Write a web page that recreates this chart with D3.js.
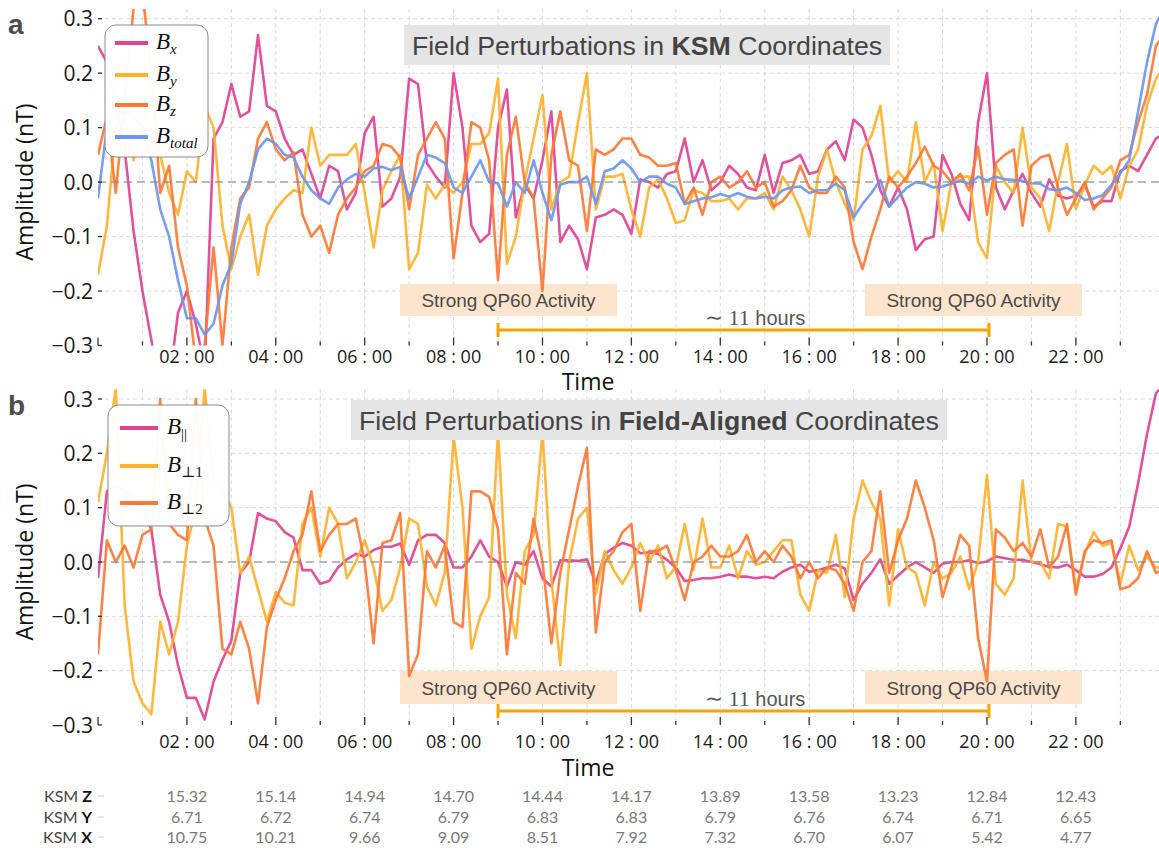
<!DOCTYPE html>
<html>
<head>
<meta charset="utf-8">
<script src="https://cdn.jsdelivr.net/npm/d3@7"></script>
<style>
  body { margin: 0; background: #fff; }
  svg { display: block; }
</style>
</head>
<body>
<svg id="chart" width="1159" height="848"></svg>
<script>
// Sampling interval of the perturbation series, in hours (starts at 00:00)
const hourStep = 0.2;

// ---- Panel a: perturbations in KSM coordinates (nT) ----
const bxKSM = [
  0.25, 0.22, 0.14, 0.06, -0.09, -0.20, -0.29, -0.38, -0.37, -0.24,
  -0.20, -0.26, -0.34, 0.08, 0.11, 0.18, 0.12, 0.13, 0.27, 0.14,
  0.13, 0.08, 0.05, 0.06, 0.015, -0.03, 0.03, 0.02, -0.05, -0.02,
  0.09, 0.12, -0.045, -0.03, 0.01, 0.19, 0.18, 0.035, 0.01, -0.01,
  0.20, 0.10, -0.08, -0.11, -0.095, 0.10, 0.17, -0.065, -0.005, -0.03,
  0.04, 0.13, -0.11, -0.08, -0.105, -0.16, -0.065, -0.06, -0.05, -0.06,
  -0.095, 0.005, 0.0, -0.01, 0.015, 0.02, 0.08, 0.0, 0.04, -0.015,
  0.0, 0.03, 0.015, -0.01, -0.015, 0.05, -0.02, 0.035, 0.04, 0.05,
  0.015, 0.02, 0.06, 0.075, 0.04, 0.115, 0.10, 0.05, -0.015, -0.045,
  -0.01, -0.05, -0.125, -0.105, -0.10, 0.05, 0.015, -0.04, -0.07, 0.11,
  0.20, -0.01, -0.05, -0.015, 0.015, -0.02, -0.045, 0.005, -0.025, -0.03,
  -0.025, -0.005, -0.045, -0.035, -0.035, 0.02, 0.03, 0.02, 0.05, 0.08,
  0.09
];
const byKSM = [
  -0.17, -0.08, 0.10, 0.12, 0.04, 0.10, 0.20, 0.05, -0.02, -0.06,
  0.02, 0.0, 0.14, 0.10, -0.08, -0.16, -0.10, -0.06, -0.17, -0.08,
  -0.05, -0.03, -0.015, -0.02, 0.10, 0.03, 0.05, 0.05, 0.05, 0.07,
  -0.02, -0.12, -0.015, 0.02, 0.05, -0.16, -0.13, -0.005, -0.03, -0.005,
  -0.02, 0.0, 0.07, 0.07, 0.09, 0.19, -0.15, -0.10, 0.0, 0.08,
  0.16, -0.05, 0.0, 0.01, 0.11, 0.20, -0.05, 0.01, 0.01, 0.015,
  -0.05, -0.10, -0.01, 0.005, -0.03, -0.075, -0.07, -0.015, -0.02, -0.035,
  -0.035, -0.03, -0.05, -0.03, -0.03, -0.02, -0.05, 0.01, -0.015, -0.05,
  -0.10, 0.01, 0.06, 0.0, -0.04, -0.07, 0.06, 0.085, 0.14, 0.0,
  0.02, 0.0, 0.11, 0.0, 0.035, -0.09, 0.0, 0.01, 0.01, -0.11,
  -0.14, 0.03, 0.0, -0.02, 0.10, -0.01, -0.03, -0.09, 0.0, 0.07,
  -0.05, -0.005, 0.03, 0.015, 0.03, -0.03, 0.03, 0.06, 0.14, 0.19,
  0.21
];
const bzKSM = [
  0.05, 0.12, -0.02, 0.15, 0.32, 0.35, 0.20, -0.02, 0.03, -0.12,
  -0.19, -0.33, -0.30, -0.12, -0.30, -0.12, -0.03, -0.01, 0.08, 0.11,
  0.06, 0.04, 0.055, -0.06, -0.10, -0.08, -0.13, -0.06, -0.03, -0.01,
  0.02, 0.03, 0.07, 0.065, 0.045, -0.05, 0.05, 0.08, 0.11, 0.08,
  -0.14, -0.02, 0.11, 0.10, 0.04, -0.18, 0.05, 0.12, 0.0, -0.03,
  -0.20, 0.05, 0.13, 0.04, 0.03, -0.09, 0.06, 0.05, 0.06, 0.08,
  0.08, 0.05, 0.045, 0.03, 0.03, 0.035, -0.04, -0.01, -0.06, 0.0,
  0.01, -0.01, 0.0, 0.02, -0.01, 0.0, -0.045, -0.035, -0.015, 0.03,
  -0.01, -0.02, -0.02, 0.01, -0.01, -0.11, -0.16, -0.10, -0.05, 0.01,
  -0.01, 0.01, 0.035, 0.065, 0.03, 0.02, 0.0, 0.015, -0.015, 0.065,
  -0.06, 0.035, 0.05, 0.06, -0.08, 0.03, 0.045, 0.05, -0.01, -0.06,
  -0.03, 0.0, -0.05, -0.03, -0.01, 0.04, 0.05, 0.11, 0.16, 0.25,
  0.27
];
const btotalKSM = [
  -0.03, 0.10, 0.12, 0.13, 0.12, 0.10, 0.04, -0.05, -0.10, -0.18,
  -0.25, -0.25, -0.28, -0.26, -0.19, -0.15, -0.04, 0.0, 0.06, 0.08,
  0.07, 0.05, 0.045, 0.01, -0.015, -0.03, -0.04, -0.01, 0.005, 0.015,
  0.01, 0.025, 0.028, 0.022, 0.028, -0.03, 0.01, 0.05, 0.045, 0.035,
  -0.01, -0.02, 0.01, 0.04, 0.0, -0.002, -0.045, 0.0, -0.02, 0.04,
  -0.02, -0.07, -0.005, 0.0, 0.0, 0.01, -0.04, 0.02, 0.025, 0.04,
  0.025, 0.0, 0.01, 0.01, -0.003, -0.01, -0.04, -0.035, -0.03, -0.028,
  -0.022, -0.027, -0.02, -0.027, -0.03, -0.027, -0.03, -0.015, -0.01, -0.008,
  -0.02, -0.015, -0.015, -0.003, -0.015, -0.065, -0.04, -0.02, 0.004, -0.045,
  -0.027, -0.01, 0.0, -0.003, -0.01, -0.008, -0.003, 0.003, -0.003, 0.01,
  0.003, 0.01, 0.005, 0.004, 0.002, -0.002, -0.003, -0.013, -0.015, -0.01,
  -0.02, -0.033, -0.03, -0.024, -0.005, 0.016, 0.04, 0.13, 0.22, 0.29,
  0.32
];

// ---- Panel b: perturbations in field-aligned coordinates (nT) ----
const bParallel = [
  -0.03, 0.13, 0.14, 0.13, 0.12, 0.10, 0.06, -0.06, -0.11, -0.19,
  -0.25, -0.25, -0.29, -0.22, -0.18, -0.145, -0.02, 0.0, 0.09, 0.08,
  0.075, 0.055, 0.045, -0.015, -0.015, -0.04, -0.035, -0.01, 0.005, 0.015,
  0.01, 0.022, 0.028, 0.028, 0.034, -0.005, 0.04, 0.05, 0.05, 0.035,
  -0.01, -0.01, 0.01, 0.04, 0.01, 0.0, -0.045, 0.0, -0.005, 0.02,
  -0.03, -0.045, 0.003, 0.003, 0.002, 0.005, -0.04, 0.015, 0.026, 0.035,
  0.03, 0.016, 0.018, 0.015, 0.004, -0.01, -0.035, -0.033, -0.03, -0.03,
  -0.027, -0.023, -0.027, -0.027, -0.03, -0.027, -0.03, -0.018, -0.01, -0.005,
  -0.018, -0.015, -0.01, -0.005, -0.012, -0.07, -0.04, -0.02, 0.005, -0.04,
  -0.025, -0.01, 0.0, -0.01, -0.02, -0.003, 0.0, 0.0, 0.003, -0.002,
  0.001, 0.01, 0.007, 0.004, 0.004, 0.0, -0.004, -0.009, -0.01, -0.005,
  -0.015, -0.027, -0.027, -0.022, -0.01, 0.025, 0.065, 0.145, 0.235, 0.31,
  0.33
];
const bPerp1 = [
  0.11, 0.20, 0.32, -0.08, -0.22, -0.26, -0.28, -0.11, -0.17, -0.11,
  0.03, 0.10, 0.32, 0.15, 0.13, 0.10, -0.02, 0.01, -0.05, -0.11,
  -0.055, -0.075, -0.08, 0.07, 0.10, 0.01, 0.10, 0.07, -0.03, 0.0,
  0.04, -0.01, -0.09, -0.07, -0.01, 0.08, 0.07, -0.045, -0.08, -0.02,
  0.23, 0.10, -0.16, -0.10, -0.065, 0.24, -0.06, -0.14, 0.02, 0.05,
  0.24, -0.03, -0.19, 0.0, 0.08, 0.10, -0.06, 0.02, -0.015, -0.04,
  -0.01, 0.035, 0.0, 0.03, -0.03, -0.01, 0.07, -0.015, 0.08, -0.01,
  -0.01, 0.03, -0.03, 0.02, -0.005, 0.0, 0.02, 0.04, 0.04, -0.06,
  -0.09, -0.015, -0.02, 0.05, -0.065, 0.08, 0.15, 0.11, 0.08, -0.08,
  0.06, -0.01, -0.02, -0.08, 0.0, -0.03, -0.02, 0.01, -0.05, 0.0,
  0.16, -0.04, -0.06, -0.03, 0.15, 0.0, 0.0, -0.03, 0.07, 0.065,
  -0.05, 0.015, 0.055, 0.03, 0.035, -0.04, 0.03, -0.015, 0.01, -0.01,
  -0.01
];
const bPerp2 = [
  -0.17, 0.04, 0.0, 0.03, -0.01, 0.05, 0.06, 0.30, 0.07, 0.05,
  0.04, 0.30, 0.08, 0.03, -0.16, -0.17, -0.11, -0.16, -0.26, -0.12,
  -0.07, -0.03, 0.02, 0.05, 0.13, 0.02, 0.05, 0.07, 0.07, 0.08,
  0.0, -0.15, 0.035, 0.04, 0.09, -0.21, -0.17, 0.02, -0.01, 0.03,
  -0.11, -0.12, 0.13, 0.13, 0.12, 0.06, -0.17, -0.02, -0.04, 0.08,
  0.0, -0.15, -0.02, 0.06, 0.14, 0.21, -0.13, 0.0, 0.02, 0.055,
  0.07, -0.09, 0.02, 0.02, 0.03, -0.015, -0.07, 0.0, 0.01, 0.03,
  0.01, 0.01, 0.02, 0.05, 0.0, 0.02, 0.0, 0.03, 0.01, -0.03,
  0.0, -0.03, -0.01, -0.015, -0.04, -0.09, 0.0, 0.02, 0.13, -0.02,
  0.04, 0.08, 0.15, 0.10, 0.04, -0.065, -0.01, 0.05, 0.03, -0.14,
  -0.22, 0.06, 0.045, 0.02, 0.035, 0.01, 0.06, -0.01, 0.01, 0.07,
  -0.06, 0.02, 0.04, 0.035, 0.04, -0.05, -0.045, -0.03, 0.02, -0.02,
  -0.015
];

// Labelled time ticks (hours) and spacecraft position table
const labelHours = [2, 4, 6, 8, 10, 12, 14, 16, 18, 20, 22];
const timeLabels = ["02 : 00", "04 : 00", "06 : 00", "08 : 00", "10 : 00", "12 : 00",
                    "14 : 00", "16 : 00", "18 : 00", "20 : 00", "22 : 00"];
const ksmZ = [15.32, 15.14, 14.94, 14.70, 14.44, 14.17, 13.89, 13.58, 13.23, 12.84, 12.43];
const ksmY = [6.71, 6.72, 6.74, 6.79, 6.83, 6.83, 6.79, 6.76, 6.74, 6.71, 6.65];
const ksmX = [10.75, 10.21, 9.66, 9.09, 8.51, 7.92, 7.32, 6.70, 6.07, 5.42, 4.77];

// Window of strong QP60 activity (hours) and its annotation
const activityStart = 9;
const activityEnd = 20;
const activityLabel = "Strong QP60 Activity";

const legendSubsA = ["x", "y", "z", "total"];
const legendSubsB = ["||", "⊥1", "⊥2"];

// ---------------------------------------------------------------
const PINK = "#df4394", AMBER = "#ffb22c", ORANGE = "#ff7834", BLUE = "#6e96ef";
const SANS = "'Open Sans', 'Noto Sans', sans-serif";
const HELV = "'Liberation Sans', Arial, sans-serif";
const SERIF = "'Liberation Serif', 'DejaVu Serif', serif";

const svg = d3.select("#chart");
const times = bxKSM.map((_, i) => i * hourStep);
const x = d3.scaleLinear().domain([0, 23.87]).range([98, 1159]);

const panels = [
  {
    id: "a",
    y: d3.scaleLinear().domain([-0.3, 0.3]).range([345.5, 18.7]),
    series: [
      { values: bxKSM, color: PINK },
      { values: byKSM, color: AMBER },
      { values: bzKSM, color: ORANGE },
      { values: btotalKSM, color: BLUE }
    ],
    legendSubs: legendSubsA, italicSubs: true,
    legendBox: { x: 105, y: 25, w: 103, h: 132 },
    legendRows: [43, 75, 105, 137], legendLine: [115, 148], legendText: 156,
    titleBold: "KSM", titleY: 55, titleX: 647,
    labelY: 34,
    actBoxes: { y: 284, h: 32 },
    bracketY: 330, hoursY: 325,
    tickLabelY: 363, timeY: 390
  },
  {
    id: "b",
    y: d3.scaleLinear().domain([-0.3, 0.3]).range([725, 399]),
    series: [
      { values: bParallel, color: PINK },
      { values: bPerp1, color: AMBER },
      { values: bPerp2, color: ORANGE }
    ],
    legendSubs: legendSubsB, italicSubs: false,
    legendBox: { x: 108, y: 405, w: 121, h: 121 },
    legendRows: [428, 466, 503], legendLine: [120, 158], legendText: 167,
    titleBold: "Field-Aligned", titleY: 430, titleX: 649,
    labelY: 415,
    actBoxes: { y: 671, h: 33 },
    bracketY: 711, hoursY: 706,
    tickLabelY: 748, timeY: 776
  }
];

panels.forEach(p => drawPanel(p));

function drawPanel(p) {
  const y = p.y;
  const g = svg.append("g");
  const top = y(0.318), bottom = y(-0.3);
  const left = x(0), right = 1159;

  // grid
  const grid = g.append("g").attr("stroke", "#dadada").attr("stroke-width", 1)
    .attr("stroke-dasharray", "4,3");
  d3.range(1, 24).forEach(h => {
    grid.append("line").attr("x1", x(h)).attr("x2", x(h)).attr("y1", top).attr("y2", bottom);
  });
  [-0.2, -0.1, 0.1, 0.2, 0.3].forEach(v => {
    grid.append("line").attr("x1", left).attr("x2", right).attr("y1", y(v)).attr("y2", y(v));
  });

  // shaded boxes behind the activity labels
  const boxCenters = [508.5, 973.5];
  boxCenters.forEach(cx => {
    g.append("rect").attr("x", cx - 108.5).attr("y", p.actBoxes.y)
      .attr("width", 217).attr("height", p.actBoxes.h)
      .attr("fill", "#fde5cd");
  });

  // clip region
  const clipId = "clip-" + p.id;
  svg.append("clipPath").attr("id", clipId).append("rect")
    .attr("x", left).attr("y", top).attr("width", right - left).attr("height", bottom - top);

  const line = d3.line().x((d, i) => x(times[i])).y(d => y(d));
  const lines = g.append("g").attr("clip-path", `url(#${clipId})`);
  p.series.forEach(s => {
    lines.append("path").datum(s.values)
      .attr("d", line)
      .attr("fill", "none")
      .attr("stroke", s.color)
      .attr("stroke-width", 2.6)
      .attr("stroke-opacity", 0.92)
      .attr("stroke-linejoin", "round");
  });

  // zero reference
  g.append("line").attr("x1", left).attr("x2", right).attr("y1", y(0)).attr("y2", y(0))
    .attr("stroke", "#888").attr("stroke-width", 2).attr("stroke-opacity", 0.6)
    .attr("stroke-dasharray", "8,5");

  // activity label texts (on top of lines)
  boxCenters.forEach(cx => {
    g.append("text").attr("x", cx).attr("y", p.actBoxes.y + p.actBoxes.h / 2 + 7)
      .attr("text-anchor", "middle").attr("font-family", HELV).attr("font-size", 19)
      .attr("fill", "#4a4a4a").text(activityLabel);
  });

  // bracket for the activity interval
  const bx0 = x(activityStart), bx1 = x(activityEnd) + 2;
  const br = g.append("g").attr("stroke", "#f5a400").attr("stroke-width", 3);
  br.append("line").attr("x1", bx0).attr("x2", bx1).attr("y1", p.bracketY).attr("y2", p.bracketY);
  br.append("line").attr("x1", bx0).attr("x2", bx0).attr("y1", p.bracketY - 7).attr("y2", p.bracketY + 7);
  br.append("line").attr("x1", bx1).attr("x2", bx1).attr("y1", p.bracketY - 7).attr("y2", p.bracketY + 7);
  const ht = g.append("text").attr("x", 755).attr("y", p.hoursY).attr("text-anchor", "middle")
    .attr("fill", "#555");
  ht.append("tspan").attr("font-family", SERIF).attr("font-size", 22)
    .text("∼ " + (activityEnd - activityStart) + " ");
  ht.append("tspan").attr("font-family", HELV).attr("font-size", 20).text("hours");

  // y ticks + labels
  const fmt = d3.format(".1f");
  d3.range(-3, 4).map(k => k / 10).forEach(v => {
    g.append("line").attr("x1", left).attr("x2", left + 4).attr("y1", y(v)).attr("y2", y(v))
      .attr("stroke", "#333").attr("stroke-width", 1.3);
    g.append("text").attr("x", 93).attr("y", y(v)).attr("dy", "0.36em")
      .attr("text-anchor", "end").attr("font-family", SANS).attr("font-size", 21)
      .attr("fill", "#1a1a1a").text(fmt(v));
  });
  g.append("text")
    .attr("transform", `translate(33,${y(0)}) rotate(-90)`)
    .attr("text-anchor", "middle").attr("font-family", SANS).attr("font-size", 23)
    .attr("fill", "#111").text("Amplitude (nT)");

  // x ticks
  d3.range(0, 24).forEach(h => {
    const len = h % 2 === 0 ? 8 : 4;
    g.append("line").attr("x1", x(h)).attr("x2", x(h)).attr("y1", bottom).attr("y2", bottom - len)
      .attr("stroke", "#333").attr("stroke-width", 1.3);
  });
  labelHours.forEach((h, i) => {
    g.append("text").attr("x", x(h)).attr("y", p.tickLabelY).attr("text-anchor", "middle")
      .attr("font-family", SANS).attr("font-size", 18).attr("fill", "#1a1a1a").text(timeLabels[i]);
  });
  g.append("text").attr("x", 588).attr("y", p.timeY).attr("text-anchor", "middle")
    .attr("font-family", SANS).attr("font-size", 23).attr("fill", "#111").text("Time");

  // title box
  const tt = g.append("text").attr("x", p.titleX).attr("y", p.titleY).attr("text-anchor", "middle")
    .attr("font-family", HELV).attr("font-size", 26.7).attr("fill", "#444");
  tt.append("tspan").text("Field Perturbations in ");
  tt.append("tspan").attr("font-weight", "bold").text(p.titleBold);
  tt.append("tspan").text(" Coordinates");
  const bb = tt.node().getBBox();
  g.insert("rect", () => tt.node())
    .attr("x", bb.x - 8).attr("y", p.titleY - 30).attr("width", bb.width + 16).attr("height", 40)
    .attr("fill", "#e5e5e5");

  // legend
  const lb = p.legendBox;
  g.append("rect").attr("x", lb.x).attr("y", lb.y).attr("width", lb.w).attr("height", lb.h)
    .attr("rx", 11).attr("ry", 11).attr("fill", "#fff").attr("fill-opacity", 0.97)
    .attr("stroke", "#8a8a8a").attr("stroke-width", 1);
  p.series.forEach((s, i) => {
    const ly = p.legendRows[i];
    g.append("line").attr("x1", p.legendLine[0]).attr("x2", p.legendLine[1])
      .attr("y1", ly).attr("y2", ly).attr("stroke", s.color).attr("stroke-width", 4);
    const t = g.append("text").attr("x", p.legendText).attr("y", ly + 6)
      .attr("font-family", SERIF).attr("font-size", 23).attr("fill", "#111");
    t.append("tspan").attr("font-style", "italic").text("B");
    t.append("tspan").attr("font-size", 15).attr("dy", 5)
      .attr("font-style", p.italicSubs ? "italic" : "normal").text(p.legendSubs[i]);
  });

  // panel letter
  svg.append("text").attr("x", 8).attr("y", p.labelY).attr("font-family", HELV)
    .attr("font-weight", "bold").attr("font-size", 28).attr("fill", "#4d4d4d").text(p.id);
}

// spacecraft position rows under the lower panel
const TABLE_FONT = "Lato, 'Open Sans', sans-serif";
const rows = [
  { axis: "Z", values: ksmZ, y: 802 },
  { axis: "Y", values: ksmY, y: 823 },
  { axis: "X", values: ksmX, y: 843 }
];
rows.forEach(r => {
  const t = svg.append("text").attr("x", 92).attr("y", r.y).attr("text-anchor", "end")
    .attr("font-family", TABLE_FONT).attr("font-size", 16);
  t.append("tspan").attr("fill", "#444").text("KSM ");
  t.append("tspan").attr("fill", "#111").attr("font-weight", 700).text(r.axis);
  svg.append("line").attr("x1", 98).attr("x2", 104).attr("y1", r.y - 6).attr("y2", r.y - 6)
    .attr("stroke", "#ccc").attr("stroke-width", 1);
  r.values.forEach((v, i) => {
    svg.append("text").attr("x", x(labelHours[i])).attr("y", r.y).attr("text-anchor", "middle")
      .attr("font-family", TABLE_FONT).attr("font-size", 16).attr("fill", "#7a7a7a")
      .text(v.toFixed(2));
  });
});
</script>
</body>
</html>
